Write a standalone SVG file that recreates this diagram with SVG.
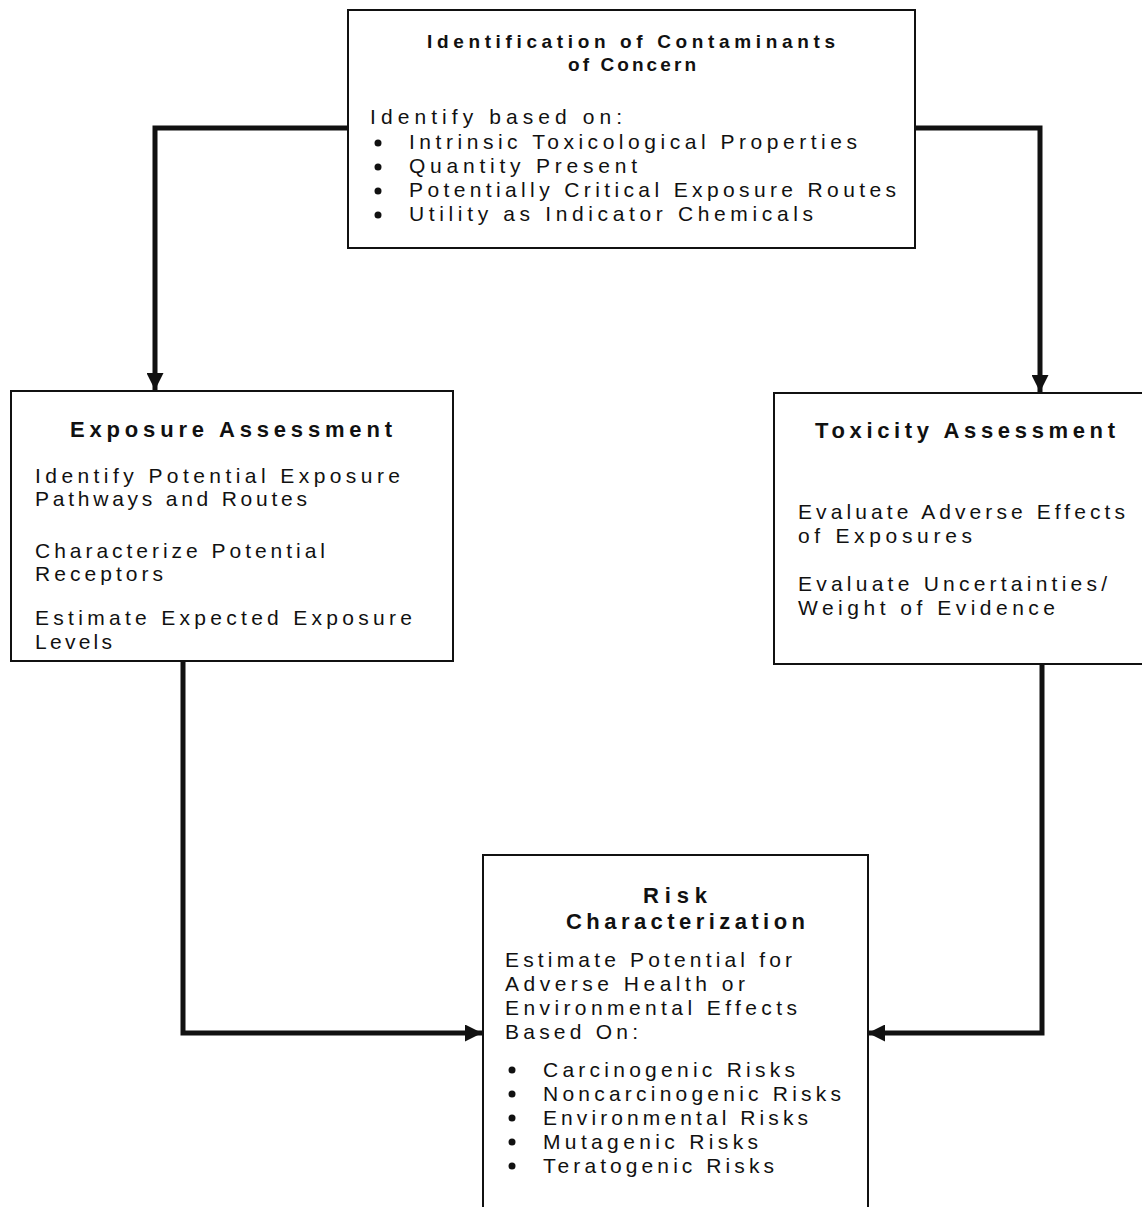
<svg xmlns="http://www.w3.org/2000/svg" width="1142" height="1207" viewBox="0 0 1142 1207">
<style>
.box{fill:#fff;stroke:#111;stroke-width:2}
.t{font-family:"Liberation Sans",Arial,sans-serif;font-size:21px;fill:#111}
.b{font-family:"Liberation Sans",Arial,sans-serif;font-size:22px;font-weight:bold;fill:#111}
.bs{font-family:"Liberation Sans",Arial,sans-serif;font-size:19px;font-weight:bold;fill:#111}
.dot{fill:#111}
.conn{fill:none;stroke:#111;stroke-width:5;stroke-linejoin:miter}
</style>
<defs>
<marker id="arr" viewBox="0 0 10 10" refX="10" refY="5" markerWidth="3.8" markerHeight="3.4" orient="auto" markerUnits="strokeWidth">
<path d="M0,0 L10,5 L0,10 Z" fill="#111"/>
</marker>
</defs>
<rect width="1142" height="1207" fill="#fff"/>
<g id="connectors">
<path class="conn" d="M349,128 L155,128 L155,390" marker-end="url(#arr)"/>
<path class="conn" d="M915,128 L1040,128 L1040,392" marker-end="url(#arr)"/>
<path class="conn" d="M183,662 L183,1033 L482,1033" marker-end="url(#arr)"/>
<path class="conn" d="M1042,665 L1042,1033 L868,1033" marker-end="url(#arr)"/>
</g>
<g id="contaminants">
<rect class="box" x="348" y="10" width="567" height="238"/>
<text class="bs" x="427" y="48" textLength="408" lengthAdjust="spacing">Identification of Contaminants</text>
<text class="bs" x="568" y="71" textLength="128" lengthAdjust="spacing">of Concern</text>
<text class="t" x="370" y="124" textLength="252" lengthAdjust="spacing">Identify based on:</text>
<circle class="dot" cx="378" cy="143" r="3.5"/>
<text class="t" x="409" y="149" textLength="448" lengthAdjust="spacing">Intrinsic Toxicological Properties</text>
<circle class="dot" cx="378" cy="167" r="3.5"/>
<text class="t" x="409" y="173" textLength="228" lengthAdjust="spacing">Quantity Present</text>
<circle class="dot" cx="378" cy="191" r="3.5"/>
<text class="t" x="409" y="197" textLength="487" lengthAdjust="spacing">Potentially Critical Exposure Routes</text>
<circle class="dot" cx="378" cy="215" r="3.5"/>
<text class="t" x="409" y="221" textLength="404" lengthAdjust="spacing">Utility as Indicator Chemicals</text>
</g>
<g id="exposure">
<rect class="box" x="11" y="391" width="442" height="270"/>
<text class="b" x="70" y="437" textLength="322" lengthAdjust="spacing">Exposure Assessment</text>
<text class="t" x="35" y="483" textLength="365" lengthAdjust="spacing">Identify Potential Exposure</text>
<text class="t" x="35" y="506" textLength="272" lengthAdjust="spacing">Pathways and Routes</text>
<text class="t" x="35" y="558" textLength="290" lengthAdjust="spacing">Characterize Potential</text>
<text class="t" x="35" y="581" textLength="128" lengthAdjust="spacing">Receptors</text>
<text class="t" x="35" y="625" textLength="377" lengthAdjust="spacing">Estimate Expected Exposure</text>
<text class="t" x="35" y="649" textLength="77" lengthAdjust="spacing">Levels</text>
</g>
<g id="toxicity">
<rect class="box" x="774" y="393" width="380" height="271"/>
<text class="b" x="815" y="438" textLength="300" lengthAdjust="spacing">Toxicity Assessment</text>
<text class="t" x="798" y="519" textLength="327" lengthAdjust="spacing">Evaluate Adverse Effects</text>
<text class="t" x="798" y="543" textLength="174" lengthAdjust="spacing">of Exposures</text>
<text class="t" x="798" y="591" textLength="309" lengthAdjust="spacing">Evaluate Uncertainties/</text>
<text class="t" x="798" y="615" textLength="257" lengthAdjust="spacing">Weight of Evidence</text>
</g>
<g id="risk">
<rect class="box" x="483" y="855" width="385" height="370"/>
<text class="b" x="643" y="903" textLength="64" lengthAdjust="spacing">Risk</text>
<text class="b" x="566" y="929" textLength="239" lengthAdjust="spacing">Characterization</text>
<text class="t" x="505" y="967" textLength="287" lengthAdjust="spacing">Estimate Potential for</text>
<text class="t" x="505" y="991" textLength="240" lengthAdjust="spacing">Adverse Health or</text>
<text class="t" x="505" y="1015" textLength="292" lengthAdjust="spacing">Environmental Effects</text>
<text class="t" x="505" y="1039" textLength="133" lengthAdjust="spacing">Based On:</text>
<circle class="dot" cx="512" cy="1070" r="3.5"/>
<text class="t" x="543" y="1077" textLength="252" lengthAdjust="spacing">Carcinogenic Risks</text>
<circle class="dot" cx="512" cy="1094" r="3.5"/>
<text class="t" x="543" y="1101" textLength="298" lengthAdjust="spacing">Noncarcinogenic Risks</text>
<circle class="dot" cx="512" cy="1118" r="3.5"/>
<text class="t" x="543" y="1125" textLength="265" lengthAdjust="spacing">Environmental Risks</text>
<circle class="dot" cx="512" cy="1142" r="3.5"/>
<text class="t" x="543" y="1149" textLength="215" lengthAdjust="spacing">Mutagenic Risks</text>
<circle class="dot" cx="512" cy="1166" r="3.5"/>
<text class="t" x="543" y="1173" textLength="231" lengthAdjust="spacing">Teratogenic Risks</text>
</g>
</svg>
